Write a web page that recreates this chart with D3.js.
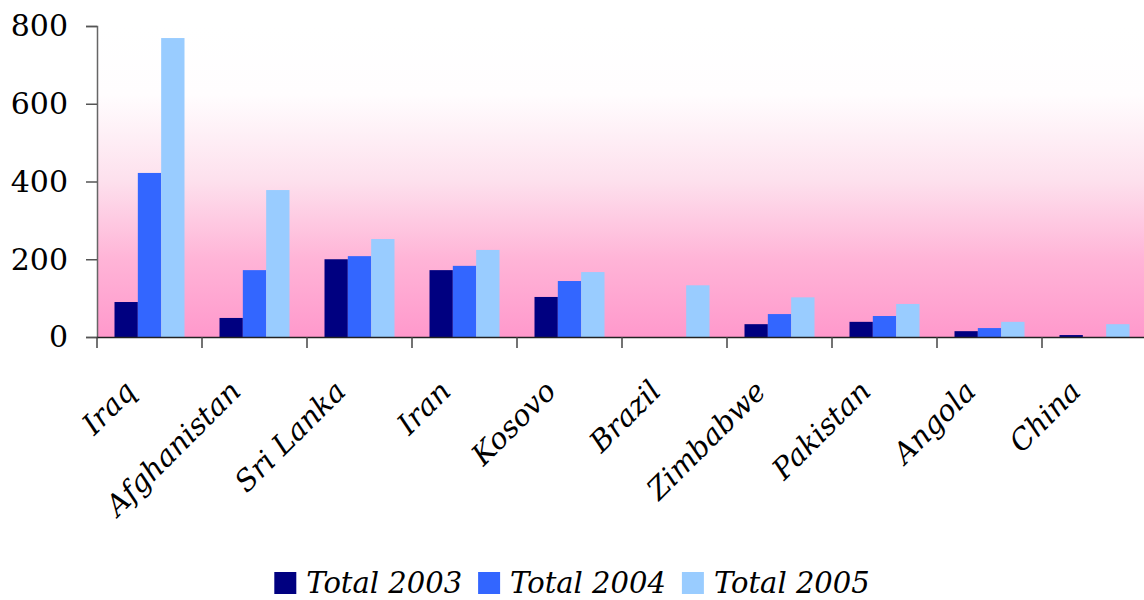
<!DOCTYPE html>
<html>
<head>
<meta charset="utf-8">
<script src="https://cdn.jsdelivr.net/npm/d3@7"></script>
<style>
  body { margin: 0; background: #fff; }
  svg { display: block; }
  .lbl { font-family: 'DejaVu Serif', 'Liberation Serif', serif; font-style: italic; fill: #000; }
  .num { font-family: 'DejaVu Serif', 'Liberation Serif', serif; fill: #000; }
</style>
</head>
<body>
<div id="chart"></div>
<script>
// data
const countries = ['Iraq', 'Afghanistan', 'Sri Lanka', 'Iran', 'Kosovo', 'Brazil', 'Zimbabwe', 'Pakistan', 'Angola', 'China']
const total2003 = [90, 49, 200, 172, 103, 0, 33, 39, 15, 5]
const total2004 = [422, 172, 208, 183, 144, 0, 59, 54, 23, 0]
const total2005 = [769, 378, 252, 224, 167, 133, 102, 85, 39, 33]
const seriesNames = ['Total 2003', 'Total 2004', 'Total 2005']
const seriesColors = ['#000080', '#3366ff', '#99ccff']
const yTicks = [0, 200, 400, 600, 800]

const W = 1144
const H = 600
const margin = { top: 26, left: 97 }
const plotW = 1050
const plotH = 311

const svg = d3.select('#chart')
  .append('svg')
  .attr('width', W)
  .attr('height', H)

// background gradient white -> pink
const grad = svg.append('defs').append('linearGradient')
  .attr('id', 'bg')
  .attr('x1', 0).attr('y1', 0).attr('x2', 0).attr('y2', 1)
grad.append('stop').attr('offset', '0%').attr('stop-color', '#ffffff')
grad.append('stop').attr('offset', '22%').attr('stop-color', '#fffdfe')
grad.append('stop').attr('offset', '50%').attr('stop-color', '#fde0ed')
grad.append('stop').attr('offset', '75%').attr('stop-color', '#ffb4d7')
grad.append('stop').attr('offset', '100%').attr('stop-color', '#ff99cc')

const g = svg.append('g')
  .attr('transform', `translate(${margin.left}, ${margin.top})`)

g.append('rect')
  .attr('width', plotW)
  .attr('height', plotH)
  .attr('fill', 'url(#bg)')

const x0 = d3.scaleBand()
  .domain(countries)
  .range([0, plotW])
  .paddingInner(1 / 3)
  .paddingOuter(1 / 6)

const x1 = d3.scaleBand()
  .domain(seriesNames)
  .range([0, x0.bandwidth()])

const y = d3.scaleLinear()
  .domain([0, 800])
  .range([plotH, 0])

const rows = countries.map((c, i) => ({
  country: c,
  values: [total2003[i], total2004[i], total2005[i]]
}))

// bars
g.append('g')
  .selectAll('g')
  .data(rows)
  .join('g')
  .attr('transform', d => `translate(${x0(d.country)}, 0)`)
  .selectAll('rect')
  .data(d => d.values.map((v, k) => ({ key: seriesNames[k], v: v, k: k })))
  .join('rect')
  .attr('x', d => x1(d.key))
  .attr('y', d => y(d.v))
  .attr('width', x1.bandwidth())
  .attr('height', d => plotH - y(d.v))
  .attr('fill', d => seriesColors[d.k])

// y axis
const yAxis = g.append('g')
  .call(d3.axisLeft(y).tickValues(yTicks).tickSize(11).tickPadding(18))
yAxis.attr('font-family', null)
yAxis.select('.domain').attr('stroke', '#666').attr('stroke-width', 1.5)
yAxis.selectAll('.tick line').attr('stroke', '#555').attr('stroke-width', 1.5)
yAxis.selectAll('.tick text')
  .attr('class', 'num')
  .style('font-size', '30px')
  .attr('dy', '0.33em')

// x axis: ticks between categories
const step = x0.step()
const boundaries = d3.range(countries.length).map(i => i * step)
g.append('line')
  .attr('x1', 0).attr('x2', plotW)
  .attr('y1', plotH + 0.5).attr('y2', plotH + 0.5)
  .attr('stroke', '#222')
  .attr('stroke-width', 1.5)
g.append('g')
  .selectAll('line')
  .data(boundaries)
  .join('line')
  .attr('x1', d => d).attr('x2', d => d)
  .attr('y1', plotH).attr('y2', plotH + 11)
  .attr('stroke', '#444')
  .attr('stroke-width', 1.5)

// category labels rotated
g.append('g')
  .selectAll('text')
  .data(countries)
  .join('text')
  .attr('class', 'lbl')
  .style('font-size', '29px')
  .attr('text-anchor', 'end')
  .attr('transform', d => `translate(${x0(d) + x0.bandwidth() / 2 - 12}, ${plotH + 56}) rotate(-45)`)
  .text(d => d)

// legend
const legend = svg.append('g')
const items = legend.selectAll('g')
  .data(seriesNames)
  .join('g')
items.append('rect')
  .attr('width', 22)
  .attr('height', 22)
  .attr('y', 572)
  .attr('fill', (d, i) => seriesColors[i])
items.append('text')
  .attr('class', 'lbl')
  .style('font-size', '29px')
  .attr('x', 32)
  .attr('y', 593)
  .text(d => d)

let cx = 0
const widths = []
items.each(function () {
  const w = 32 + this.querySelector('text').getComputedTextLength()
  widths.push(w)
})
const gap = 16
const total = d3.sum(widths) + gap * (widths.length - 1)
cx = (W - total) / 2
items.attr('transform', function (d, i) {
  const t = `translate(${cx}, 0)`
  cx += widths[i] + gap
  return t
})
</script>
</body>
</html>
